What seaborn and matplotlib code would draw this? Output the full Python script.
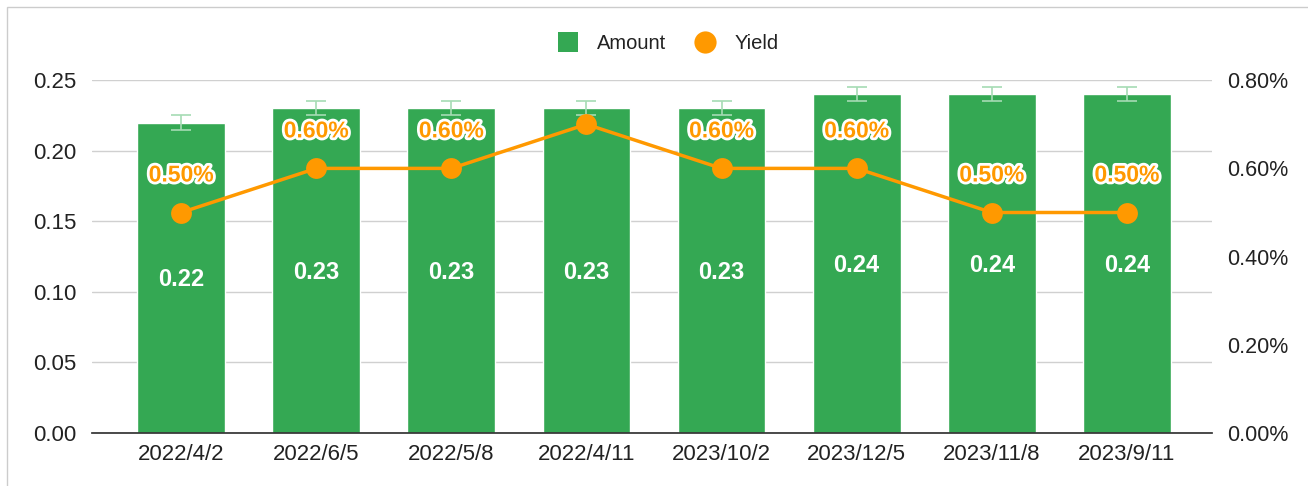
import numpy as np
import pandas as pd
import seaborn as sns
import matplotlib.pyplot as plt
import matplotlib.patheffects as pe
from matplotlib.patches import Rectangle
from matplotlib.lines import Line2D

dates = ["2022/4/2", "2022/6/5", "2022/5/8", "2022/4/11",
         "2023/10/2", "2023/12/5", "2023/11/8", "2023/9/11"]
amount = [0.22, 0.23, 0.23, 0.23, 0.23, 0.24, 0.24, 0.24]
amount_err = [0.005, 0.005, 0.005, 0.005, 0.005, 0.005, 0.005, 0.005]
yield_pct = [0.50, 0.60, 0.60, 0.70, 0.60, 0.60, 0.50, 0.50]
yield_labels = ["0.50%", "0.60%", "0.60%", "", "0.60%", "0.60%", "0.50%", "0.50%"]

green = "#34A853"
orange = "#FF9900"

sns.set_theme(style="white")
plt.rcParams["font.family"] = ["Liberation Sans", "DejaVu Sans"]

df = pd.DataFrame({"date": dates, "amount": amount, "yield": yield_pct})

fig = plt.figure(figsize=(13.08, 4.86), dpi=100)
fig.patches.append(Rectangle((0.005, -0.02), 1.1, 1.005, transform=fig.transFigure,
                             fill=False, edgecolor="#cccccc", linewidth=1))
ax = fig.add_axes([0.0703, 0.109, 0.8563, 0.726])

sns.barplot(data=df, x="date", y="amount", color=green, saturation=1,
            width=0.65, ax=ax, zorder=2)
x = np.arange(len(dates))
ax.errorbar(x, amount, yerr=amount_err, fmt="none", ecolor="#a6dbb4",
            elinewidth=1.2, capsize=7.5, capthick=1.2, zorder=3)

for xi, v in zip(x, amount):
    ax.text(xi, v / 2 - 0.0015, f"{v:.2f}", ha="center", va="center",
            color="white", fontsize=17, fontweight="bold", zorder=4)

ax.set_ylim(0, 0.25)
ax.set_yticks([0, 0.05, 0.10, 0.15, 0.20, 0.25])
ax.set_yticklabels([f"{t:.2f}" for t in ax.get_yticks()])
ax.set_xlim(-0.66, 7.63)
ax.set_xlabel("")
ax.set_ylabel("")
ax.grid(axis="y", color="#d0d0d0", linewidth=1)
ax.set_axisbelow(True)
for s in ["top", "right", "left"]:
    ax.spines[s].set_visible(False)
ax.spines["bottom"].set_color("#333333")
ax.tick_params(axis="both", labelsize=16, colors="#222222", length=0, pad=11)
ax.tick_params(axis="x", pad=8)

ax2 = ax.twinx()
sns.lineplot(x=x, y=yield_pct, ax=ax2, color=orange, linewidth=2.5,
             marker="o", markersize=15, markeredgewidth=0, zorder=5)
ax2.set_ylim(0, 0.8)
ax2.set_yticks([0, 0.2, 0.4, 0.6, 0.8])
ax2.set_yticklabels([f"{t:.2f}%" for t in ax2.get_yticks()])
for s in ["top", "right", "left", "bottom"]:
    ax2.spines[s].set_visible(False)
ax2.tick_params(axis="y", labelsize=15.5, colors="#222222", length=0, pad=11)
ax2.set_xlim(-0.66, 7.63)

for xi, v, lab in zip(x, yield_pct, yield_labels):
    if lab:
        ax2.text(xi, v + 0.085, lab, ha="center", va="center", color=orange,
                 fontsize=16.5, fontweight="bold", zorder=6,
                 path_effects=[pe.withStroke(linewidth=4, foreground="white")])

handles = [Line2D([], [], marker="s", linestyle="none", markersize=15,
                  markerfacecolor=green, markeredgewidth=0),
           Line2D([], [], marker="o", linestyle="none", markersize=16,
                  markerfacecolor=orange, markeredgewidth=0)]
fig.legend(handles, ["Amount", "Yield"], loc="center", bbox_to_anchor=(0.507, 0.91),
           ncol=2, frameon=False, fontsize=14.5, handletextpad=0.45, columnspacing=0.9,
           labelcolor="#222222")

fig.savefig("out.png", dpi=100)
